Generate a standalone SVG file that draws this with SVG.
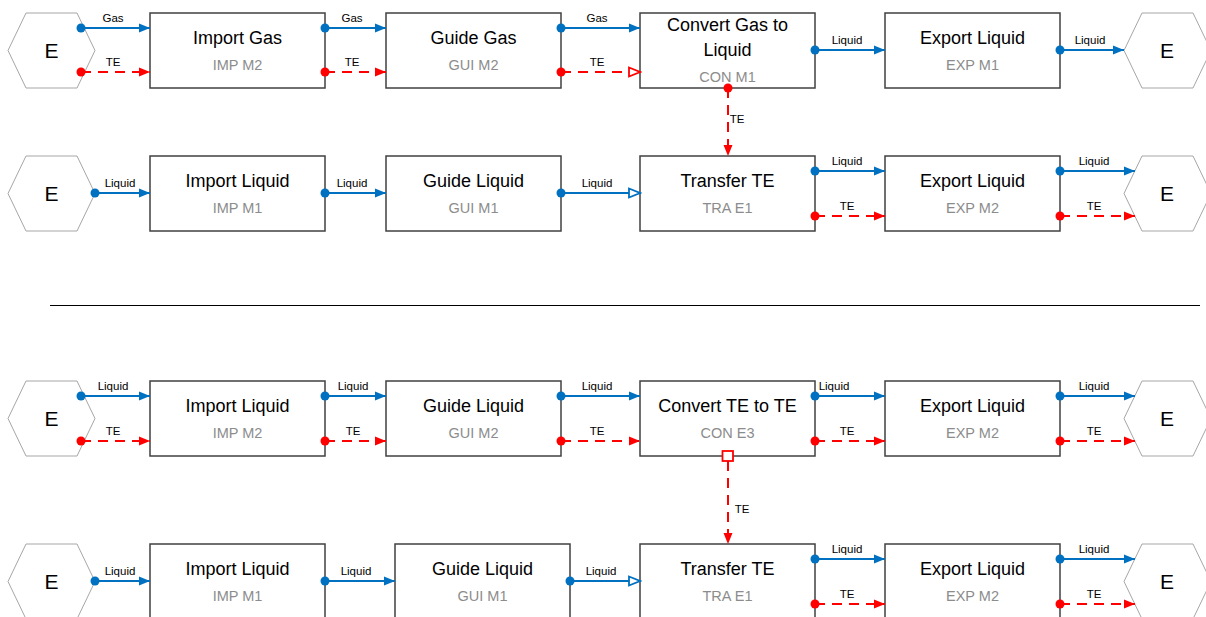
<svg xmlns="http://www.w3.org/2000/svg" width="1206" height="617" viewBox="0 0 1206 617">
<style>
.box{fill:#fff;stroke:#404040;stroke-width:1.5}
.hex{fill:#fff;stroke:#a6a6a6;stroke-width:1}
.t{font-family:"Liberation Sans",Arial,sans-serif;font-size:18px;fill:#000;text-anchor:middle}
.s{font-family:"Liberation Sans",Arial,sans-serif;font-size:14.5px;fill:#8c8c8c;text-anchor:middle}
.e{font-family:"Liberation Sans",Arial,sans-serif;font-size:21px;fill:#000;text-anchor:middle}
.l{font-family:"Liberation Sans",Arial,sans-serif;font-size:11.5px;fill:#000;text-anchor:middle}
.b{stroke:#0070c0;stroke-width:2;fill:none}
.r{stroke:#ff0000;stroke-width:2;fill:none;stroke-dasharray:10,7}
.bd{fill:#0070c0}
.rd{fill:#ff0000}
.bf{marker-end:url(#ab)}
.rf{marker-end:url(#ar)}
.bh{marker-end:url(#abh)}
.rh{marker-end:url(#arh)}
</style>
<defs>
<marker id="ab" markerUnits="userSpaceOnUse" markerWidth="12" markerHeight="10" refX="11" refY="5" orient="auto"><path d="M0,0.5 L11,5 L0,9.5 z" fill="#0070c0"/></marker>
<marker id="ar" markerUnits="userSpaceOnUse" markerWidth="12" markerHeight="10" refX="11" refY="5" orient="auto"><path d="M0,0.5 L11,5 L0,9.5 z" fill="#ff0000"/></marker>
<marker id="abh" markerUnits="userSpaceOnUse" markerWidth="14" markerHeight="12" refX="12" refY="6" orient="auto"><path d="M1,1.5 L12,6 L1,10.5 z" fill="#fff" stroke="#0070c0" stroke-width="1.8" stroke-dasharray="none"/></marker>
<marker id="arh" markerUnits="userSpaceOnUse" markerWidth="14" markerHeight="12" refX="12" refY="6" orient="auto"><path d="M1,1.5 L12,6 L1,10.5 z" fill="#fff" stroke="#ff0000" stroke-width="1.8" stroke-dasharray="none"/></marker>
</defs>

<line x1="50" y1="305.5" x2="1200" y2="305.5" stroke="#000" stroke-width="1"/>

<!-- Row 1 -->
<g id="hexL1"><polygon class="hex" points="8,50.5 26,13 77,13 95,50.5 77,88 26,88"/><text class="e" x="51.5" y="58">E</text></g>
<g id="impGas"><rect class="box" x="150" y="13" width="175" height="75"/><text class="t" x="237.5" y="44">Import Gas</text><text class="s" x="237.5" y="70">IMP M2</text></g>
<g id="guiGas"><rect class="box" x="386" y="13" width="175" height="75"/><text class="t" x="473.5" y="44">Guide Gas</text><text class="s" x="473.5" y="70">GUI M2</text></g>
<g id="conGas"><rect class="box" x="640" y="13" width="175" height="75"/><text class="t" x="727.5" y="31">Convert Gas to</text><text class="t" x="727.5" y="56">Liquid</text><text class="s" x="727.5" y="82">CON M1</text></g>
<g id="expLiq1"><rect class="box" x="885" y="13" width="175" height="75"/><text class="t" x="972.5" y="44">Export Liquid</text><text class="s" x="972.5" y="70">EXP M1</text></g>
<g id="hexR1"><polygon class="hex" points="1124,50.5 1142,13 1193,13 1211,50.5 1193,88 1142,88"/><text class="e" x="1167" y="58">E</text></g>

<!-- Row 2 -->
<g id="hexL2"><polygon class="hex" points="8,193.5 26,156 77,156 95,193.5 77,231 26,231"/><text class="e" x="51.5" y="201">E</text></g>
<g id="impLiq2"><rect class="box" x="150" y="156" width="175" height="75"/><text class="t" x="237.5" y="187">Import Liquid</text><text class="s" x="237.5" y="213">IMP M1</text></g>
<g id="guiLiq2"><rect class="box" x="386" y="156" width="175" height="75"/><text class="t" x="473.5" y="187">Guide Liquid</text><text class="s" x="473.5" y="213">GUI M1</text></g>
<g id="traTE2"><rect class="box" x="640" y="156" width="175" height="75"/><text class="t" x="727.5" y="187">Transfer TE</text><text class="s" x="727.5" y="213">TRA E1</text></g>
<g id="expLiq2"><rect class="box" x="885" y="156" width="175" height="75"/><text class="t" x="972.5" y="187">Export Liquid</text><text class="s" x="972.5" y="213">EXP M2</text></g>
<g id="hexR2"><polygon class="hex" points="1124,193.5 1142,156 1193,156 1211,193.5 1193,231 1142,231"/><text class="e" x="1167" y="201">E</text></g>

<!-- Row 3 -->
<g id="hexL3"><polygon class="hex" points="8,418.5 26,381 77,381 95,418.5 77,456 26,456"/><text class="e" x="51.5" y="426">E</text></g>
<g id="impLiq3"><rect class="box" x="150" y="381" width="175" height="75"/><text class="t" x="237.5" y="412">Import Liquid</text><text class="s" x="237.5" y="438">IMP M2</text></g>
<g id="guiLiq3"><rect class="box" x="386" y="381" width="175" height="75"/><text class="t" x="473.5" y="412">Guide Liquid</text><text class="s" x="473.5" y="438">GUI M2</text></g>
<g id="conTE3"><rect class="box" x="640" y="381" width="175" height="75"/><text class="t" x="727.5" y="412">Convert TE to TE</text><text class="s" x="727.5" y="438">CON E3</text></g>
<g id="expLiq3"><rect class="box" x="885" y="381" width="175" height="75"/><text class="t" x="972.5" y="412">Export Liquid</text><text class="s" x="972.5" y="438">EXP M2</text></g>
<g id="hexR3"><polygon class="hex" points="1124,418.5 1142,381 1193,381 1211,418.5 1193,456 1142,456"/><text class="e" x="1167" y="426">E</text></g>

<!-- Row 4 -->
<g id="hexL4"><polygon class="hex" points="8,581.5 26,544 77,544 95,581.5 77,619 26,619"/><text class="e" x="51.5" y="589">E</text></g>
<g id="impLiq4"><rect class="box" x="150" y="544" width="175" height="75"/><text class="t" x="237.5" y="575">Import Liquid</text><text class="s" x="237.5" y="601">IMP M1</text></g>
<g id="guiLiq4"><rect class="box" x="395" y="544" width="175" height="75"/><text class="t" x="482.5" y="575">Guide Liquid</text><text class="s" x="482.5" y="601">GUI M1</text></g>
<g id="traTE4"><rect class="box" x="640" y="544" width="175" height="75"/><text class="t" x="727.5" y="575">Transfer TE</text><text class="s" x="727.5" y="601">TRA E1</text></g>
<g id="expLiq4"><rect class="box" x="885" y="544" width="175" height="75"/><text class="t" x="972.5" y="575">Export Liquid</text><text class="s" x="972.5" y="601">EXP M2</text></g>
<g id="hexR4"><polygon class="hex" points="1124,581.5 1142,544 1193,544 1211,581.5 1193,619 1142,619"/><text class="e" x="1167" y="589">E</text></g>

<g id="connectors">
<!-- row 1 -->
<line class="b bf" x1="81" y1="28" x2="150" y2="28"/><circle class="bd" cx="81" cy="28" r="4.5"/><text class="l" x="113" y="22">Gas</text>
<line class="r rf" x1="81" y1="72" x2="150" y2="72"/><circle class="rd" cx="81" cy="72" r="4.5"/><text class="l" x="113" y="66">TE</text>
<line class="b bf" x1="325" y1="28" x2="386" y2="28"/><circle class="bd" cx="325" cy="28" r="4.5"/><text class="l" x="352" y="22">Gas</text>
<line class="r rf" x1="325" y1="72" x2="386" y2="72"/><circle class="rd" cx="325" cy="72" r="4.5"/><text class="l" x="352" y="66">TE</text>
<line class="b bf" x1="561" y1="28" x2="640" y2="28"/><circle class="bd" cx="561" cy="28" r="4.5"/><text class="l" x="597" y="22">Gas</text>
<line class="r rh" x1="561" y1="72" x2="640" y2="72"/><circle class="rd" cx="561" cy="72" r="4.5"/><text class="l" x="597" y="66">TE</text>
<line class="b bf" x1="815" y1="50" x2="885" y2="50"/><circle class="bd" cx="815" cy="50" r="4.5"/><text class="l" x="847" y="44">Liquid</text>
<line class="b bf" x1="1060" y1="50" x2="1124" y2="50"/><circle class="bd" cx="1060" cy="50" r="4.5"/><text class="l" x="1090" y="44">Liquid</text>
<line class="r rf" x1="728" y1="88" x2="728" y2="156"/><circle class="rd" cx="728" cy="88" r="4.5"/><text class="l" x="737" y="123">TE</text>
<!-- row 2 -->
<line class="b bf" x1="95" y1="193" x2="150" y2="193"/><circle class="bd" cx="95" cy="193" r="4.5"/><text class="l" x="120" y="187">Liquid</text>
<line class="b bf" x1="325" y1="193" x2="386" y2="193"/><circle class="bd" cx="325" cy="193" r="4.5"/><text class="l" x="352" y="187">Liquid</text>
<line class="b bh" x1="561" y1="193" x2="640" y2="193"/><circle class="bd" cx="561" cy="193" r="4.5"/><text class="l" x="597" y="187">Liquid</text>
<line class="b bf" x1="815" y1="171" x2="885" y2="171"/><circle class="bd" cx="815" cy="171" r="4.5"/><text class="l" x="847" y="165">Liquid</text>
<line class="r rf" x1="815" y1="216" x2="885" y2="216"/><circle class="rd" cx="815" cy="216" r="4.5"/><text class="l" x="847" y="210">TE</text>
<line class="b bf" x1="1060" y1="171" x2="1135" y2="171"/><circle class="bd" cx="1060" cy="171" r="4.5"/><text class="l" x="1094" y="165">Liquid</text>
<line class="r rf" x1="1060" y1="216" x2="1135" y2="216"/><circle class="rd" cx="1060" cy="216" r="4.5"/><text class="l" x="1094" y="210">TE</text>
<!-- row 3 -->
<line class="b bf" x1="81" y1="396" x2="150" y2="396"/><circle class="bd" cx="81" cy="396" r="4.5"/><text class="l" x="113" y="390">Liquid</text>
<line class="r rf" x1="81" y1="441" x2="150" y2="441"/><circle class="rd" cx="81" cy="441" r="4.5"/><text class="l" x="113" y="435">TE</text>
<line class="b bf" x1="325" y1="396" x2="386" y2="396"/><circle class="bd" cx="325" cy="396" r="4.5"/><text class="l" x="353" y="390">Liquid</text>
<line class="r rf" x1="325" y1="441" x2="386" y2="441"/><circle class="rd" cx="325" cy="441" r="4.5"/><text class="l" x="353" y="435">TE</text>
<line class="b bf" x1="561" y1="396" x2="640" y2="396"/><circle class="bd" cx="561" cy="396" r="4.5"/><text class="l" x="597" y="390">Liquid</text>
<line class="r rf" x1="561" y1="441" x2="640" y2="441"/><circle class="rd" cx="561" cy="441" r="4.5"/><text class="l" x="597" y="435">TE</text>
<line class="b bf" x1="815" y1="396" x2="885" y2="396"/><circle class="bd" cx="815" cy="396" r="4.5"/><text class="l" x="834" y="390">Liquid</text>
<line class="r rf" x1="815" y1="441" x2="885" y2="441"/><circle class="rd" cx="815" cy="441" r="4.5"/><text class="l" x="847" y="435">TE</text>
<line class="b bf" x1="1060" y1="396" x2="1135" y2="396"/><circle class="bd" cx="1060" cy="396" r="4.5"/><text class="l" x="1094" y="390">Liquid</text>
<line class="r rf" x1="1060" y1="441" x2="1135" y2="441"/><circle class="rd" cx="1060" cy="441" r="4.5"/><text class="l" x="1094" y="435">TE</text>
<line class="r rf" x1="728" y1="461" x2="728" y2="544"/><rect x="722.5" y="451" width="10.5" height="10" fill="#fff" stroke="#ff0000" stroke-width="1.8"/><text class="l" x="742" y="513">TE</text>
<!-- row 4 -->
<line class="b bf" x1="95" y1="581" x2="150" y2="581"/><circle class="bd" cx="95" cy="581" r="4.5"/><text class="l" x="120" y="575">Liquid</text>
<line class="b bf" x1="325" y1="581" x2="395" y2="581"/><circle class="bd" cx="325" cy="581" r="4.5"/><text class="l" x="356" y="575">Liquid</text>
<line class="b bh" x1="570" y1="581" x2="640" y2="581"/><circle class="bd" cx="570" cy="581" r="4.5"/><text class="l" x="601" y="575">Liquid</text>
<line class="b bf" x1="815" y1="559" x2="885" y2="559"/><circle class="bd" cx="815" cy="559" r="4.5"/><text class="l" x="847" y="553">Liquid</text>
<line class="r rf" x1="815" y1="604" x2="885" y2="604"/><circle class="rd" cx="815" cy="604" r="4.5"/><text class="l" x="847" y="598">TE</text>
<line class="b bf" x1="1060" y1="559" x2="1135" y2="559"/><circle class="bd" cx="1060" cy="559" r="4.5"/><text class="l" x="1094" y="553">Liquid</text>
<line class="r rf" x1="1060" y1="604" x2="1135" y2="604"/><circle class="rd" cx="1060" cy="604" r="4.5"/><text class="l" x="1094" y="598">TE</text>
</g>
</svg>
